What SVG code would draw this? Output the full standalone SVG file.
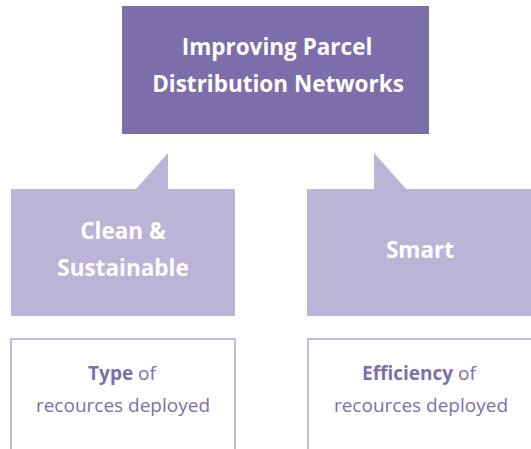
<svg xmlns="http://www.w3.org/2000/svg" width="531" height="449" viewBox="0 0 531 449">
  <style>
    .title { font-family: "Open Sans", "Noto Sans", sans-serif; font-weight: 700; fill: #ffffff; text-anchor: middle; font-size: 22.5px; }
    .sub { font-family: "Open Sans", "Noto Sans", sans-serif; font-size: 19px; fill: #7b6fae; text-anchor: middle; }
    .sub .b { font-weight: 700; }
    .main { fill: #7b6eab; }
    .callout { fill: #bbb4d7; }
    .frame { fill: #ffffff; stroke: #c2bcdd; stroke-width: 2; }
  </style>
  <rect width="531" height="449" fill="#ffffff"/>

  <g id="root">
    <rect class="main" x="122" y="6" width="307" height="128"/>
    <text class="title" x="277" y="55">Improving Parcel</text>
    <text class="title" x="278" y="92">Distribution Networks</text>
  </g>

  <g id="connectors">
    <!-- speech-bubble tails pointing up toward the root box -->
    <polygon class="callout" points="135,190 168,153 168,190"/>
    <polygon class="callout" points="374,153 407,190 374,190"/>
  </g>

  <g id="clean">
    <rect class="callout" x="11" y="189" width="224" height="127"/>
    <text class="title" x="123" y="239">Clean &amp;</text>
    <text class="title" x="123" y="276">Sustainable</text>
  </g>

  <g id="smart">
    <rect class="callout" x="307" y="189" width="230" height="127"/>
    <text class="title" x="420" y="258">Smart</text>
  </g>

  <g id="type">
    <rect class="frame" x="11" y="339" width="224" height="120"/>
    <text class="sub" x="122" y="380"><tspan class="b">Type</tspan> of</text>
    <text class="sub" x="123" y="412">recources deployed</text>
  </g>

  <g id="efficiency">
    <rect class="frame" x="308" y="339" width="230" height="120"/>
    <text class="sub" x="419" y="380"><tspan class="b">Efficiency</tspan> of</text>
    <text class="sub" x="421" y="412">recources deployed</text>
  </g>
</svg>
